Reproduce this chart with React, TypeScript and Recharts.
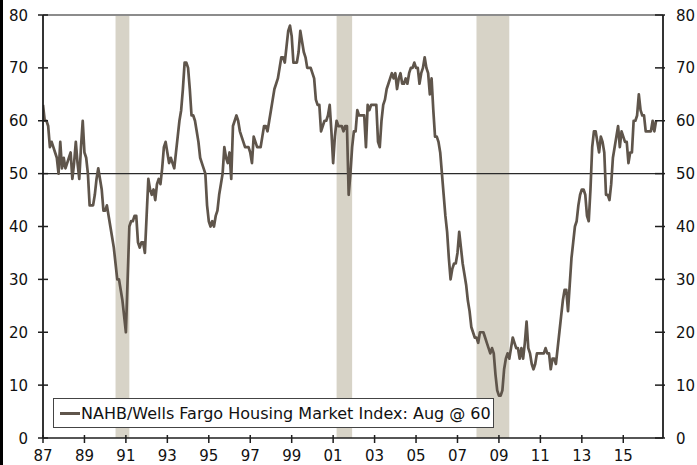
import React from 'react'
import { LineChart, Line, XAxis, YAxis, ReferenceArea, ReferenceLine, Legend } from 'recharts'

// NAHB/Wells Fargo HMI, monthly from Jan 1987
const startYear = 1987

const hmi1980s = [
  63, 60, 60, 59, 55, 56, 55, 54, 53, 50, 56, 51, // 87
  53, 51, 52, 53, 54, 49, 52, 56, 52, 49, 55, 60, // 88
  54, 53, 50, 44, 44, 44, 46, 49, 51, 49, 47, 43, // 89
]
const hmi1990s = [
  43, 44, 42, 40, 38, 36, 33, 30, 30, 28, 26, 23, // 90
  20, 30, 40, 41, 41, 42, 42, 37, 36, 37, 37, 35, // 91
  42, 49, 47, 46, 47, 45, 48, 49, 48, 51, 55, 56, // 92
  54, 52, 53, 52, 51, 54, 57, 60, 62, 66, 71, 71, // 93
  70, 66, 61, 61, 60, 58, 56, 53, 52, 51, 50, 44, // 94
  41, 40, 41, 40, 42, 43, 46, 48, 50, 55, 53, 52, // 95
  54, 49, 59, 60, 61, 60, 58, 57, 56, 55, 55, 55, // 96
  54, 52, 57, 56, 55, 55, 55, 57, 59, 59, 58, 60, // 97
  62, 64, 66, 67, 68, 70, 72, 72, 71, 74, 77, 78, // 98
  76, 71, 71, 71, 73, 77, 75, 73, 72, 70, 70, 70, // 99
]
const hmi2000s = [
  69, 68, 64, 63, 63, 58, 59, 60, 60, 61, 63, 58, // 00
  52, 57, 60, 59, 59, 59, 58, 59, 59, 46, 50, 55, // 01
  58, 58, 62, 61, 61, 61, 61, 55, 63, 62, 63, 63, // 02
  63, 63, 56, 55, 60, 63, 64, 66, 67, 68, 69, 68, // 03
  69, 66, 68, 69, 67, 67, 68, 67, 69, 70, 70, 71, // 04
  70, 70, 67, 69, 70, 72, 70, 69, 65, 68, 62, 57, // 05
  57, 56, 54, 50, 46, 42, 39, 34, 30, 32, 33, 33, // 06
  35, 39, 36, 33, 31, 29, 26, 24, 21, 20, 19, 19, // 07
  18, 20, 20, 20, 19, 18, 17, 16, 17, 16, 12, 9, // 08
  8, 8, 9, 13, 15, 16, 15, 17, 19, 18, 17, 17, // 09
]
const hmi2010s = [
  15, 17, 15, 18, 22, 17, 16, 14, 13, 14, 16, 16, // 10
  16, 16, 16, 17, 16, 16, 13, 15, 15, 14, 17, 20, // 11
  23, 26, 28, 28, 24, 29, 34, 37, 40, 41, 44, 46, // 12
  47, 47, 46, 42, 41, 47, 55, 58, 58, 56, 54, 57, // 13
  56, 54, 46, 46, 45, 48, 53, 55, 57, 59, 55, 58, // 14
  57, 56, 56, 52, 54, 54, 60, 60, 61, 65, 62, 61, // 15
  61, 58, 58, 58, 58, 60, 58, 60, // 16
]

const seriesLabel = 'NAHB/Wells Fargo Housing Market Index: Aug @ 60'
const yTicks = [0, 10, 20, 30, 40, 50, 60, 70, 80]
const xTickYears = [1987, 1989, 1991, 1993, 1995, 1997, 1999, 2001, 2003, 2005, 2007, 2009, 2011, 2013, 2015]
// [year, month] start and end of each shaded recession
const recessions = [
  [[1990, 7], [1991, 3]],
  [[2001, 3], [2001, 12]],
  [[2007, 12], [2009, 7]],
]

const monthIndex = (y: number, m: number) => (y - startYear) * 12 + (m - 1)
const hmiValues = [...hmi1980s, ...hmi1990s, ...hmi2000s, ...hmi2010s]
const data = hmiValues.map((v, i) => ({ idx: i, hmi: v }))
const xTicks = xTickYears.map((y) => monthIndex(y, 1))

const font = '"DejaVu Sans", Verdana, sans-serif'
const lineColor = '#5f554b'
const axisColor = '#1e1e1e'

function LeftTick(props: any) {
  const { x, y, payload } = props
  return (
    <g>
      <line x1={x + 10} x2={x + 20} y1={y} y2={y} stroke={axisColor} strokeWidth={1.5} />
      <text x={x} y={y} dy={5.5} textAnchor="end" fontSize={15} fontFamily={font} fill="#111">
        {payload.value}
      </text>
    </g>
  )
}

function RightTick(props: any) {
  const { x, y, payload } = props
  return (
    <g>
      <line x1={x - 21} x2={x - 11} y1={y} y2={y} stroke={axisColor} strokeWidth={1.5} />
      <text x={x} y={y} dy={5.5} textAnchor="start" fontSize={15} fontFamily={font} fill="#111">
        {payload.value}
      </text>
    </g>
  )
}

function BottomTick(props: any) {
  const { x, y, payload } = props
  const yr = String((startYear + Math.round(payload.value / 12)) % 100).padStart(2, '0')
  return (
    <g>
      <line x1={x} x2={x} y1={y - 8} y2={y} stroke={axisColor} strokeWidth={1.5} />
      <text x={x} y={y + 18} textAnchor="middle" fontSize={15} fontFamily={font} fill="#111">
        {yr}
      </text>
    </g>
  )
}

const renderLegend = () => (
  <div
    style={{
      width: 439,
      height: 28,
      border: '1px solid #444',
      background: '#fff',
      display: 'flex',
      alignItems: 'center',
      fontFamily: font,
      fontSize: 16,
      color: '#111',
      whiteSpace: 'nowrap',
    }}
  >
    <span style={{ display: 'inline-block', width: 20, height: 3, background: lineColor, marginLeft: 6 }} />
    <span style={{ marginLeft: 1 }}>{seriesLabel}</span>
  </div>
)

export default function App() {
  return (
    <div style={{ position: 'absolute', left: 0, top: 0, width: 697, height: 465, background: '#fff' }}>
      <div style={{ position: 'absolute', left: 0, top: 0, width: 3, height: 465, background: '#000' }} />
      <LineChart width={697} height={465} data={data} margin={{ top: 15, right: 0, bottom: 0, left: 0 }}>
        {recessions.map(([a, b], i) => (
          <ReferenceArea
            key={i}
            yAxisId="left"
            x1={monthIndex(a[0], a[1])}
            x2={monthIndex(b[0], b[1])}
            y1={0}
            y2={80}
            fill="#d7d3c7"
            fillOpacity={1}
            stroke="none"
          />
        ))}
        <XAxis
          dataKey="idx"
          type="number"
          domain={[0, 359]}
          ticks={xTicks}
          interval={0}
          allowDataOverflow
          height={27}
          tickSize={5}
          tickMargin={0}
          tickLine={false}
          tick={<BottomTick />}
          axisLine={{ stroke: axisColor, strokeWidth: 1.5 }}
        />
        <YAxis
          yAxisId="left"
          domain={[0, 80]}
          ticks={yTicks}
          interval={0}
          allowDataOverflow
          width={43}
          tickSize={5}
          tickMargin={10}
          tickLine={false}
          tick={<LeftTick />}
          axisLine={{ stroke: axisColor, strokeWidth: 1.8 }}
        />
        <YAxis
          yAxisId="right"
          orientation="right"
          type="number"
          domain={[0, 80]}
          ticks={yTicks}
          interval={0}
          allowDataOverflow
          width={34}
          tickSize={5}
          tickMargin={8}
          tickLine={false}
          tick={<RightTick />}
          axisLine={{ stroke: axisColor, strokeWidth: 1.8 }}
        />
        <ReferenceLine yAxisId="left" y={80} stroke="#8c8c8c" strokeWidth={2} />
        <ReferenceLine yAxisId="left" y={50} stroke="#2a2a2a" strokeWidth={1.2} />
        <Line
          yAxisId="left"
          type="linear"
          dataKey="hmi"
          name={seriesLabel}
          stroke={lineColor}
          strokeWidth={2.7}
          strokeLinejoin="round"
          dot={false}
          isAnimationActive={false}
        />
        <Line
          yAxisId="right"
          dataKey="hmi"
          stroke="none"
          strokeWidth={0}
          dot={false}
          activeDot={false}
          legendType="none"
          isAnimationActive={false}
        />
        <Legend
          layout="horizontal"
          verticalAlign="middle"
          align="center"
          content={renderLegend}
          wrapperStyle={{ left: 53, top: 398, width: 'auto', height: 'auto' }}
        />
      </LineChart>
    </div>
  )
}
